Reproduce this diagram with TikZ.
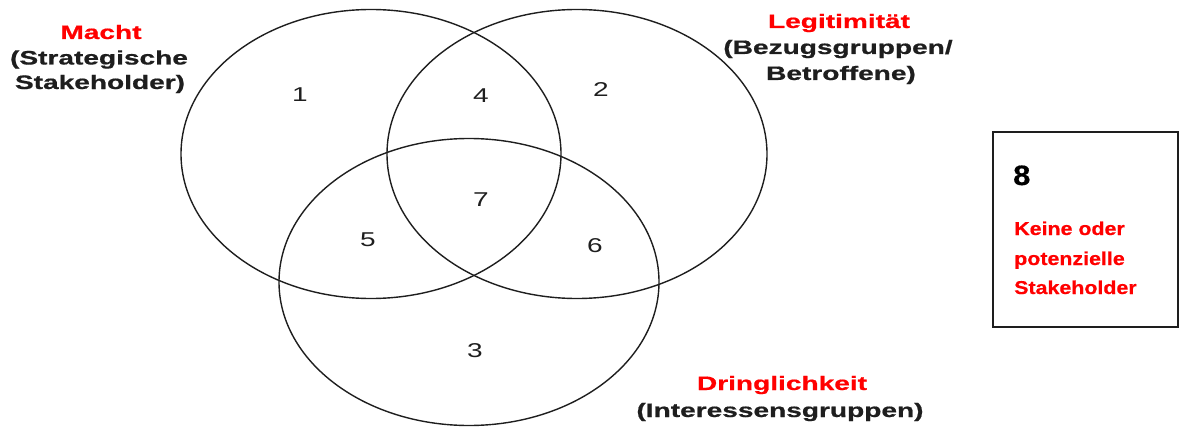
\documentclass[tikz,border=0pt]{standalone}
\usepackage{fontspec}
\setmainfont{Liberation Sans}[BoldFeatures={FakeBold=0.6}]
\usetikzlibrary{shapes.geometric}
\definecolor{lblred}{RGB}{255,0,0}
\definecolor{ink}{RGB}{30,30,30}
\begin{document}
\begin{tikzpicture}[x=1pt,y=-1pt,
  setshape/.style={ellipse, draw=ink, line width=1.4pt, minimum width=380pt, minimum height=289pt, inner sep=0pt},
  digit/.style={font=\fontsize{20}{24}\selectfont, text=ink, xscale=1.4, inner sep=0pt},
  lbltitle/.style={font=\bfseries\fontsize{19.5}{25}\selectfont, text=lblred, xscale=1.44, inner sep=0pt, anchor=base},
  lblsub/.style={font=\bfseries\fontsize{19.5}{25}\selectfont, text=ink, xscale=1.44, inner sep=0pt, anchor=base},
  boxtxt/.style={font=\bfseries\fontsize{18.6}{24}\selectfont, text=lblred, xscale=1.15, inner sep=0pt, anchor=base west},
  infobox/.style={draw=ink, line width=1.7pt, minimum width=185pt, minimum height=195pt, inner sep=0pt}
]
\useasboundingbox (0,0) rectangle (1181,428);
% sets
\node[setshape] (macht) at (371,154) {};
\node[setshape] (legit) at (577,154) {};
\node[setshape, minimum height=287pt] (dring) at (469,282) {};
% region numbers
\node[digit] (r1) at (300,95) {1};
\node[digit] (r2) at (601,90) {2};
\node[digit] (r3) at (475,351) {3};
\node[digit] (r4) at (481,96) {4};
\node[digit] (r5) at (368,240) {5};
\node[digit] (r6) at (595,246) {6};
\node[digit] (r7) at (481,200) {7};
% labels
\node[lbltitle] (mt) at (101,39) {Macht};
\node[lblsub] (ms1) at (99,64.5) {(Strategische};
\node[lblsub] (ms2) at (100,89) {Stakeholder)};
\node[lbltitle] (lt) at (839,28) {Legitimität};
\node[lblsub] (ls1) at (838,54) {(Bezugsgruppen/};
\node[lblsub] (ls2) at (841,80) {Betroffene)};
\node[lbltitle] (dt) at (782,390) {Dringlichkeit};
\node[lblsub] (ds1) at (780,417) {(Interessensgruppen)};
% box
\node[infobox] (box) at (1085.5,229.5) {};
\node[font=\bfseries\fontsize{28}{30}\selectfont, text=black, xscale=1.1, inner sep=0pt, anchor=base west] (b8) at (1013,185) {8};
\node[boxtxt] (bt1) at (1014,235) {Keine oder};
\node[boxtxt] (bt2) at (1014,265) {potenzielle};
\node[boxtxt] (bt3) at (1014,294) {Stakeholder};
\end{tikzpicture}
\end{document}
